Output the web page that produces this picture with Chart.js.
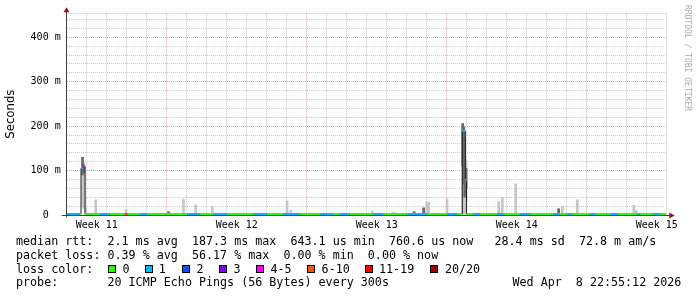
<!DOCTYPE html>
<html>
<head>
<meta charset="utf-8">
<script src="https://cdn.jsdelivr.net/npm/chart.js@4.4.1/dist/chart.umd.min.js"></script>
<style>
  html, body { margin: 0; padding: 0; background: #fff; }
  #wrap { position: relative; width: 697px; height: 297px; overflow: hidden; }
  #smoke { position: absolute; left: 0; top: 0; }
  .lg { position: absolute; font: 11.7px "DejaVu Sans Mono", monospace; line-height: 14px; white-space: pre; color: #000; }
  .box { position: absolute; width: 6px; height: 6px; border: 1px solid #000; }
</style>
</head>
<body>
<div id="wrap">
  <canvas id="smoke" width="697" height="297"></canvas>
  <div id="legend"></div>
</div>
<script>
// x axis is in days from the left edge of the graph (30 days shown)
const weekLabels = ['Week 11', 'Week 12', 'Week 13', 'Week 14', 'Week 15'];
const weekCenters = [1.5, 8.5, 15.5, 22.5, 29.5];
const weekStarts = [5, 12, 19, 26];
const yLabels = {0: '0  ', 100: '100 m', 200: '200 m', 300: '300 m', 400: '400 m'};
const yMax = 454;   // ms at the top of the plot

const lossNames = ['0', '1', '2', '3', '4-5', '6-10', '11-19', '20/20'];
const lossColors = ['#26ff00', '#00b8ff', '#0059ff', '#7e00ff', '#ff00ff', '#ff5500', '#ff0000', '#a10000'];

// median rtt (ms), one step per entry, with its loss bucket (index into lossNames)
const medianTimes  = [0, 0.02, 0.67, 0.715, 0.83, 0.915, 1.67, 2.17, 2.95, 3.02, 3.67, 4.02, 6.02, 6.67,
                      7.32, 8.02, 9.32, 10.02, 10.82, 11.67, 12.67, 13.32, 13.67, 14.17, 15.32, 15.82,
                      17.02, 18.02, 19.02, 19.52, 19.78, 19.93, 19.99, 20.32, 20.67, 21.52, 21.82,
                      22.67, 23.17, 24.32, 24.67, 25.02, 25.27, 26.17, 26.42, 27.17, 27.57,
                      28.52, 28.67, 29.32, 29.67, 29.97];
const medianValues = [2.1, 2.1, 2.1, 105, 109, 2.1, 2.1, 2.1, 2.1, 2.1, 2.1, 2.1, 2.1, 2.1,
                      2.1, 2.1, 2.1, 2.1, 2.1, 2.1, 2.1, 2.1, 2.1, 2.1, 2.1, 2.1,
                      2.1, 2.1, 2.1, 2.1, 189, 79, 2.1, 2.1, 2.1, 2.1, 2.1,
                      2.1, 2.1, 2.1, 2.1, 2.1, 2.1, 2.1, 2.1, 2.1, 2.1,
                      2.1, 2.1, 2.1, 2.1, 2.1];
const medianLoss   = [0, 1, 0, 1, 4, 0, 1, 0, 6, 0, 1, 0, 1, 0,
                      1, 0, 1, 0, 1, 0, 1, 0, 1, 0, 1, 0,
                      1, 0, 1, 0, 1, 0, 0, 1, 0, 1, 0,
                      1, 0, 1, 0, 1, 0, 1, 0, 1, 0,
                      1, 0, 1, 0, 0];

// smoke: spread of the 20 pings (ms)
const smokeTimes = [0.79, 0.84, 0.89, 0.96, 1.45, 2.97, 5.09, 5.84, 6.45, 7.28, 11.02, 11.2,
                    15.28, 16.35, 17.37, 17.85, 18.0, 18.1, 18.47, 19.02, 19.8, 19.85, 19.9, 19.97,
                    21.6, 21.78, 22.45, 24.6, 24.78, 25.53, 28.35, 28.47];
const smokeMin   = [20, 15, 15, 2, 2, 2, 2, 2, 2, 2, 2, 2,
                    2, 2, 2, 2, 2, 2, 2, 2, 2, 2, 2, 30,
                    2, 2, 2, 2, 2, 2, 2, 2];
const smokeMax   = [127, 118, 112, 15, 34, 13, 7, 36, 23, 19, 32, 11,
                    9, 6, 7, 16, 29, 29, 4, 36, 206, 200, 185, 124,
                    31, 40, 70, 14, 20, 34, 22, 11];
// darker core of the smoke
const coreTimes = [0.79, 0.84, 5.09, 17.37, 17.85, 19.8, 19.85, 19.9, 19.97, 24.6];
const coreLow   = [90, 95, 2, 2, 2, 110, 70, 40, 60, 2];
const coreHigh  = [130, 113, 7, 7, 16, 206, 198, 170, 105, 14];

const outlinePts = medianTimes.map((t, i) => ({x: t, y: medianValues[i]}));
const lossPts = [];
const lossSeg = [];
for (let i = 0; i < medianTimes.length - 1; i++) {
  lossPts.push({x: medianTimes[i], y: medianValues[i]}, {x: medianTimes[i + 1], y: medianValues[i]});
  lossSeg.push(lossColors[medianLoss[i]], 'rgba(0,0,0,0)');
}

const dayTicks = [];
for (let d = 0; d <= 30; d++) dayTicks.push(d);
const yTicks = [];
for (let v = 0; v <= 440; v += 20) yTicks.push(v);
yTicks.push(yMax);

const majorGrid = 'rgba(222,80,80,0.55)';
const minorGrid = 'rgba(150,150,150,0.5)';

const rrdFrame = {
  id: 'rrdFrame',
  afterDatasetsDraw(chart) {
    const {ctx, chartArea: a} = chart;
    const ax = Math.floor(a.left) + 0.5;
    const ay = Math.round(a.bottom) + 0.5;
    ctx.save();
    ctx.strokeStyle = '#404040';
    ctx.lineWidth = 1;
    ctx.beginPath();
    ctx.moveTo(ax, ay + 2);
    ctx.lineTo(ax, a.top - 3);
    ctx.moveTo(a.left - 5, ay);
    ctx.lineTo(a.right + 3, ay);
    ctx.stroke();
    ctx.fillStyle = '#8b1c1c';
    ctx.beginPath();
    ctx.moveTo(ax - 3, a.top - 1);
    ctx.lineTo(ax + 3, a.top - 1);
    ctx.lineTo(ax, a.top - 6);
    ctx.closePath();
    ctx.fill();
    ctx.beginPath();
    ctx.moveTo(a.right + 2.5, ay - 3);
    ctx.lineTo(a.right + 2.5, ay + 3);
    ctx.lineTo(a.right + 8, ay);
    ctx.closePath();
    ctx.fill();
    ctx.restore();
  },
  afterDraw(chart) {
    const ctx = chart.ctx;
    ctx.save();
    ctx.translate(687, 5);
    ctx.rotate(Math.PI / 2);
    ctx.font = '8px "DejaVu Sans Mono"';
    ctx.fillStyle = '#aaaaaa';
    ctx.textAlign = 'left';
    ctx.textBaseline = 'middle';
    ctx.fillText('RRDTOOL / TOBI OETIKER', 0, 0);
    ctx.restore();
  }
};

const ctx = document.getElementById('smoke').getContext('2d');
const chart = new Chart(ctx, {
  type: 'line',
  data: {
    datasets: [
      {
        type: 'bar',
        label: 'smoke',
        data: smokeTimes.map((t, i) => ({x: t, y: [smokeMin[i], smokeMax[i]]})),
        backgroundColor: '#c6c6c6',
        barThickness: 2,
        grouped: false,
        order: 3
      },
      {
        type: 'bar',
        label: 'core',
        data: coreTimes.map((t, i) => ({x: t, y: [coreLow[i], coreHigh[i]]})),
        backgroundColor: '#6a6a6a',
        barThickness: 2,
        grouped: false,
        order: 2
      },
      {
        label: 'median',
        data: outlinePts,
        borderColor: '#202020',
        borderWidth: 1,
        stepped: 'before',
        pointRadius: 0,
        order: 1
      },
      {
        label: 'loss',
        data: lossPts,
        borderWidth: 2,
        pointRadius: 0,
        segment: { borderColor: c => lossSeg[c.p0DataIndex] },
        order: 0
      }
    ]
  },
  options: {
    responsive: false,
    animation: false,
    events: [],
    layout: { padding: { top: 13.3, right: 30.3, left: 0, bottom: 0 } },
    plugins: { legend: { display: false }, tooltip: { enabled: false } },
    scales: {
      x: {
        type: 'linear',
        min: 0,
        max: 30,
        offset: false,
        afterBuildTicks: s => { s.ticks = dayTicks.concat(weekCenters).sort((a, b) => a - b).map(v => ({value: v})); },
        afterFit: s => { s.height = 82; },
        ticks: {
          autoSkip: false,
          maxRotation: 0,
          padding: 4,
          color: '#000',
          font: { family: 'DejaVu Sans Mono', size: 10 },
          callback: v => { const k = weekCenters.indexOf(v); return k >= 0 ? weekLabels[k] : ''; }
        },
        grid: {
          drawTicks: false,
          offset: false,
          color: c => {
            const v = c.tick ? c.tick.value : 0;
            if (!Number.isInteger(v)) return 'rgba(0,0,0,0)';
            return weekStarts.includes(v) ? majorGrid : minorGrid;
          }
        },
        border: { display: false, dash: [1, 1] }
      },
      y: {
        min: 0,
        max: yMax,
        afterBuildTicks: s => { s.ticks = yTicks.map(v => ({value: v})); },
        afterFit: s => { s.width = 66.7; },
        title: {
          display: true,
          text: 'Seconds',
          color: '#000',
          font: { family: 'DejaVu Sans', size: 11.7 },
          padding: { top: 3.6, bottom: 0 }
        },
        ticks: {
          autoSkip: false,
          padding: 6,
          color: '#000',
          font: { family: 'DejaVu Sans Mono', size: 10 },
          callback: v => (v in yLabels ? yLabels[v] : '')
        },
        grid: {
          drawTicks: false,
          color: c => {
            const v = c.tick ? c.tick.value : 0;
            return (v % 100 === 0 && v > 0) ? majorGrid : minorGrid;
          }
        },
        border: { display: false, dash: [1, 1] }
      }
    }
  },
  plugins: [rrdFrame]
});

// text legend under the graph, like rrdtool's GPRINT lines
const legendRows = [
  {top: 234, left: 16, text: 'median rtt:  2.1 ms avg  187.3 ms max  643.1 us min  760.6 us now   28.4 ms sd  72.8 m am/s'},
  {top: 247.6, left: 16, text: 'packet loss: 0.39 % avg  56.17 % max  0.00 % min  0.00 % now'},
  {top: 262, left: 16, text: 'loss color:'},
  {top: 274.6, left: 16, text: 'probe:       20 ICMP Echo Pings (56 Bytes) every 300s'},
  {top: 274.6, left: 512.5, text: 'Wed Apr  8 22:55:12 2026'}
];
const boxLeft = [108, 145, 182, 219, 256, 307, 365, 430];
const boxText = [122.5, 158.8, 196.5, 233.5, 270.5, 321.6, 379, 444.9];

const legend = document.getElementById('legend');
legendRows.forEach(row => {
  const d = document.createElement('div');
  d.className = 'lg';
  d.style.left = row.left + 'px';
  d.style.top = row.top + 'px';
  d.textContent = row.text;
  legend.appendChild(d);
});
lossNames.forEach((name, i) => {
  const b = document.createElement('div');
  b.className = 'box';
  b.style.left = boxLeft[i] + 'px';
  b.style.top = '265px';
  b.style.background = lossColors[i];
  legend.appendChild(b);
  const t = document.createElement('div');
  t.className = 'lg';
  t.style.left = boxText[i] + 'px';
  t.style.top = '262px';
  t.textContent = name;
  legend.appendChild(t);
});
</script>
</body>
</html>
